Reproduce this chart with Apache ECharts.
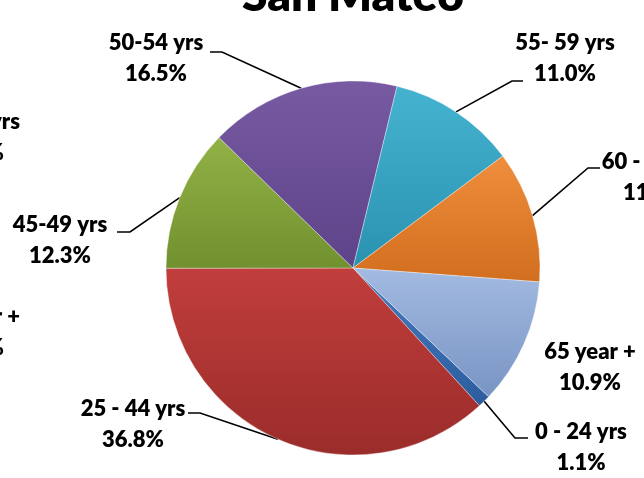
<!DOCTYPE html>
<html><head><meta charset="utf-8">
<script src="https://cdn.jsdelivr.net/npm/echarts@6/dist/echarts.min.js"></script>
<style>html,body{margin:0;padding:0;background:#fff}#c{width:644px;height:478px}</style>
</head><body><div id="c"></div>
<script>
const chartTitle = 'San Mateo';
const categories = ['0 - 24 yrs', '25 - 44 yrs', '45-49 yrs', '50-54 yrs', '55- 59 yrs', '60 - 64 yrs', '65 year +'];
const values = [1.1, 36.8, 12.3, 16.5, 11.0, 11.4, 10.9];

// styles / layout (kept apart from the data)
const sliceColors = [
  ['#467cc2', '#2c5c9c'], ['#c13e3c', '#9a2c2a'], ['#92b246', '#71902f'],
  ['#785aa2', '#5d4389'], ['#45b3d0', '#2a92b1'], ['#ef8e3c', '#d26e1f'], ['#a3bbe2', '#7894c3']
];
const labelAnchors = [[581, 447], [133, 424], [60, 240], [156, 58], [565, 58], [654, 177], [590, 367]];
const labelBends = [
  [[515, 438], [528, 438]], [[200, 413], [188, 413]], [[130, 232], [117, 232]],
  [[222, 52], [210, 52]], [[512, 81], [523, 81]], [[588, 168], [600, 168]], null
];
const labelFont = {family: 'Lato', weight: 800, size: 22};

const chart = echarts.init(document.getElementById('c'), null, {renderer: 'canvas'});
const data = categories.map((c, i) => ({
  name: c,
  value: values[i],
  itemStyle: {
    color: new echarts.graphic.LinearGradient(0, 0, 0, 1, [
      {offset: 0, color: sliceColors[i][0]}, {offset: 1, color: sliceColors[i][1]}
    ])
  },
  labelLine: {show: labelBends[i] !== null}
}));

const f = labelFont.weight + ' ' + labelFont.size + 'px ' + labelFont.family;
chart.setOption({
  animation: false,
  backgroundColor: '#ffffff',
  graphic: [
    {type: 'text', x: 353, y: -4, style: {text: chartTitle, font: '800 46px Lato', fill: '#000', textAlign: 'center', textVerticalAlign: 'middle'}},
    {type: 'text', x: 20, y: 122, style: {text: 'yrs', font: f, fill: '#000', textAlign: 'right', textVerticalAlign: 'middle'}},
    {type: 'text', x: 4, y: 153, style: {text: '%', font: f, fill: '#000', textAlign: 'right', textVerticalAlign: 'middle'}},
    {type: 'text', x: 20, y: 317, style: {text: 'r +', font: f, fill: '#000', textAlign: 'right', textVerticalAlign: 'middle'}},
    {type: 'text', x: 4, y: 348, style: {text: '%', font: f, fill: '#000', textAlign: 'right', textVerticalAlign: 'middle'}}
  ],
  series: [{
    type: 'pie',
    center: [353, 268],
    radius: 187,
    startAngle: -43.5,
    clockwise: true,
    avoidLabelOverlap: false,
    data: data,
    itemStyle: {borderColor: 'rgba(255,255,255,0.35)', borderWidth: 1},
    label: {
      show: true,
      position: 'outside',
      fontFamily: labelFont.family,
      fontWeight: labelFont.weight,
      fontSize: labelFont.size,
      lineHeight: 31,
      color: '#000',
      align: 'center',
      formatter: p => p.name + '\n' + p.value.toFixed(1) + '%'
    },
    labelLine: {show: true, length: 20, length2: 10, lineStyle: {color: '#000', width: 1.6}},
    emphasis: {disabled: true},
    labelLayout: function (p) {
      const i = p.dataIndex;
      const a = labelAnchors[i];
      const r = {x: a[0], y: a[1], align: 'center', verticalAlign: 'middle'};
      const b = labelBends[i];
      if (b && p.labelLinePoints) {
        r.labelLinePoints = [p.labelLinePoints[0], b[0], b[1]];
      }
      return r;
    }
  }]
});
</script>
</body></html>
